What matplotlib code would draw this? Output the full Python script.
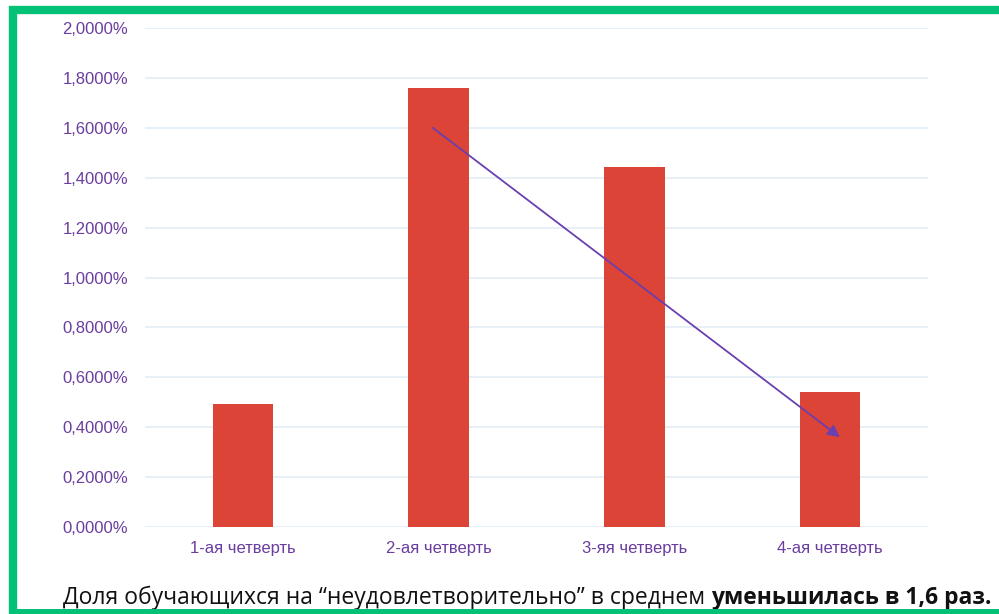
import matplotlib
matplotlib.use("Agg")
import matplotlib.pyplot as plt
from matplotlib.patches import Rectangle
from matplotlib.ticker import FuncFormatter

categories = ["1-ая четверть", "2-ая четверть", "3-яя четверть", "4-ая четверть"]
values = [0.493, 1.759, 1.443, 0.541]
yticks = [0.0, 0.2, 0.4, 0.6, 0.8, 1.0, 1.2, 1.4, 1.6, 1.8, 2.0]
arrow_start = (0.97, 1.60)
arrow_end = (3.05, 0.36)

plt.rcParams["font.family"] = ["Liberation Sans", "DejaVu Sans"]
purple = "#6a3d9e"
fig = plt.figure(figsize=(9.99, 6.14), dpi=100)
ax = fig.add_axes([145/999, 1-527/614, 783/999, 499/614])
x = list(range(len(categories)))
ax.bar(x, values, width=0.31, color="#dc4437", zorder=2)
ax.set_xlim(-0.5, 3.5)
ax.set_ylim(0, 2.0)
ax.set_yticks(yticks)
ax.yaxis.set_major_formatter(FuncFormatter(lambda v, p: f"{v:.4f}".replace(".", ",") + "%"))
ax.set_xticks(x)
ax.set_xticklabels(categories)
ax.tick_params(axis="both", labelsize=12, labelcolor=purple)
ax.tick_params(axis="y", length=0, pad=12)
ax.tick_params(axis="x", length=0, pad=10)
ax.grid(axis="y", color="#e3ecf6", linewidth=1.2, zorder=0)
for s in ax.spines.values():
    s.set_visible(False)
ax.annotate("", xy=arrow_end, xytext=arrow_start,
            arrowprops=dict(arrowstyle="-|>", color="#6a3fb0", lw=1.3,
                            mutation_scale=18, shrinkA=0, shrinkB=0), zorder=4)

fs = 16.5
t1 = fig.text(63/999, 1-604/614, "Доля обучающихся на “неудовлетворительно” в среднем ",
              fontsize=fs, family="Open Sans", color="#111111", va="baseline", ha="left")
fig.canvas.draw()
bb = t1.get_window_extent()
fig.text(bb.x1/999, 1-604/614, "уменьшилась в 1,6 раз.", fontsize=fs, family="Open Sans",
         fontweight="bold", color="#111111", va="baseline", ha="left")

rect = Rectangle((13/999, -0.05), 1.1, (1-10/614) + 0.05, transform=fig.transFigure,
                 fill=False, edgecolor="#03c177", linewidth=6, zorder=10, clip_on=False)
fig.patches.append(rect)
fig.patches.append(Rectangle((13/999, 0), 1.0, 5/614, transform=fig.transFigure,
                             facecolor="#03c177", edgecolor="none", zorder=10))
fig.savefig("out.png", dpi=100)
